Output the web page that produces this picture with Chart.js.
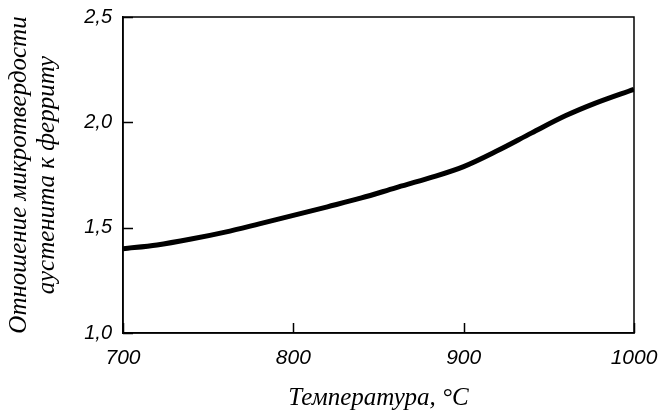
<!DOCTYPE html>
<html lang="ru">
<head>
  <meta charset="UTF-8">
  <title>Отношение микротвердости</title>
  <script src="https://cdn.jsdelivr.net/npm/chart.js"></script>
  <style>
    body { margin: 0; background: #fff; }
    #wrap { width: 659px; height: 412px; }
  </style>
</head>
<body>
  <div id="wrap"><canvas id="myChart" width="659" height="412"></canvas></div>

  <script>
    // temperature, °C
    const temps = [700, 720, 740, 760, 780, 800, 820, 840, 860, 880, 900, 920, 940, 960, 977, 1000];
    // austenite / ferrite microhardness ratio
    const ratio = [1.40, 1.418, 1.446, 1.479, 1.518, 1.558, 1.599, 1.641, 1.689, 1.736, 1.79, 1.866, 1.95, 2.032, 2.09, 2.157];

    const xTicks = [700, 800, 900, 1000];
    const xTickLabels = ['700', '800', '900', '1000'];
    const yTicks = [1.0, 1.5, 2.0, 2.5];
    const yTickLabels = ['1,0', '1,5', '2,0', '2,5'];

    const xTitle = 'Температура, °C';
    const yTitle = ['Отношение микротвердости', 'аустенита к ферриту'];

    // closed frame round the plot area, and short inward tick marks
    const frame = {
      id: 'frame',
      afterDraw(chart) {
        const a = chart.chartArea;
        const c = chart.ctx;
        const sx = chart.scales.x, sy = chart.scales.y;
        c.save();
        c.strokeStyle = '#000';
        c.lineWidth = 1.5;
        c.strokeRect(a.left, a.top, a.right - a.left, a.bottom - a.top);
        c.beginPath();
        sx.ticks.forEach(t => {
          const px = Math.round(sx.getPixelForValue(t.value)) + 0.5;
          c.moveTo(px, a.bottom);
          c.lineTo(px, a.bottom - 10);
        });
        sy.ticks.forEach(t => {
          const py = Math.round(sy.getPixelForValue(t.value)) + 0.5;
          c.moveTo(a.left, py);
          c.lineTo(a.left + 10, py);
        });
        c.stroke();
        c.restore();
      }
    };

    const xTickFont = { family: '"Liberation Sans", Arial, sans-serif', size: 21, style: 'italic' };
    const yTickFont = { family: '"Liberation Sans", Arial, sans-serif', size: 20, style: 'italic' };
    const titleFont = { family: '"Liberation Serif", "Times New Roman", serif', size: 25, style: 'italic', lineHeight: 1.1 };

    const ctx = document.getElementById('myChart').getContext('2d');
    new Chart(ctx, {
      type: 'line',
      data: {
        datasets: [{
          data: temps.map((t, i) => ({ x: t, y: ratio[i] })),
          borderColor: '#000',
          borderWidth: 5,
          pointRadius: 0,
          cubicInterpolationMode: 'monotone',
          fill: false
        }]
      },
      plugins: [frame],
      options: {
        responsive: false,
        animation: false,
        layout: { padding: 0 },
        plugins: { legend: { display: false }, tooltip: { enabled: false } },
        scales: {
          x: {
            type: 'linear',
            min: 700,
            max: 1000,
            afterBuildTicks: s => { s.ticks = xTicks.map(v => ({ value: v })); },
            afterFit: s => { s.height = 79; s.paddingLeft = 0; s.paddingRight = 25; },
            ticks: {
              color: '#000',
              font: xTickFont,
              padding: 13,
              maxRotation: 0,
              callback: v => xTickLabels[xTicks.indexOf(v)]
            },
            grid: { display: false, drawTicks: false },
            border: { display: true, color: '#000', width: 1.5 },
            title: { display: true, text: xTitle, color: '#000', font: titleFont, padding: { top: 0, bottom: 0 } }
          },
          y: {
            min: 1.0,
            max: 2.5,
            afterBuildTicks: s => { s.ticks = yTicks.map(v => ({ value: v })); },
            afterFit: s => { s.width = 123; s.paddingTop = 17; s.paddingBottom = 0; },
            ticks: {
              color: '#000',
              font: yTickFont,
              padding: 11,
              callback: v => yTickLabels[yTicks.indexOf(v)]
            },
            grid: { display: false, drawTicks: false },
            border: { display: true, color: '#000', width: 1.5 },
            title: { display: true, text: yTitle, color: '#000', font: titleFont, padding: { top: 6, bottom: 0 } }
          }
        }
      }
    });
  </script>
</body>
</html>
